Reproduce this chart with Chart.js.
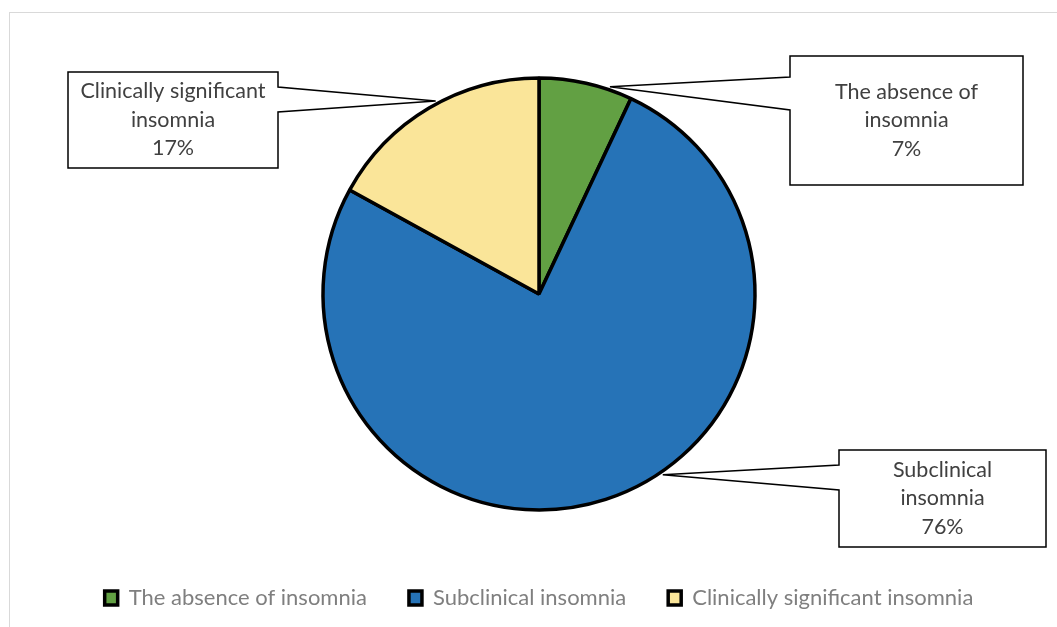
<!DOCTYPE html>
<html>
<head>
<meta charset="utf-8">
<title>Insomnia</title>
<script src="https://cdn.jsdelivr.net/npm/chart.js@4.4.0/dist/chart.umd.min.js"></script>
<style>
  html, body { margin: 0; padding: 0; background: #fff; }
  canvas { display: block; }
</style>
</head>
<body>
<canvas id="pieChart" width="1057" height="627"></canvas>
<script>
'use strict';

// data
const categories = ['The absence of insomnia', 'Subclinical insomnia', 'Clinically significant insomnia'];
const shares = [7, 76, 17];
const calloutText = [['The absence of', 'insomnia'], ['Subclinical', 'insomnia'], ['Clinically significant', 'insomnia']];

// warna
const greenColor = '#62a043',
  blueColor = '#2673b7',
  yellowColor = '#fae599',
  labelColor = '#404040',
  legendColor = '#7f7f7f',
  frameColor = '#d9d9d9';

const fontFamily = 'Lato, "Open Sans", sans-serif';

// kotak label (posisi kotak, sisi pointer, titik pada irisan)
const callouts = [
  { x: 790, y: 56, w: 233, h: 129, side: 'left', b0: 21, b1: 54, frac: 0.75 },
  { x: 839, y: 450, w: 207, h: 97, side: 'left', b0: 15, b1: 40, frac: 0.44 },
  { x: 68, y: 72, w: 210, h: 96, side: 'right', b0: 15, b1: 40, frac: 0.54 }
];

const calloutPlugin = {
  id: 'callouts',
  beforeDraw(chart) {
    const ctx = chart.ctx;
    ctx.save();
    ctx.strokeStyle = frameColor;
    ctx.lineWidth = 1;
    ctx.strokeRect(9.5, 12.5, 1200, 800);
    ctx.restore();
  },
  afterDatasetsDraw(chart) {
    const ctx = chart.ctx;
    const meta = chart.getDatasetMeta(0);
    const total = shares.reduce((a, b) => a + b, 0);
    meta.data.forEach((arc, i) => {
      const c = callouts[i];
      const p = arc.getProps(['x', 'y', 'startAngle', 'endAngle', 'outerRadius'], true);
      const ang = p.startAngle + c.frac * (p.endAngle - p.startAngle);
      const tx = p.x + Math.cos(ang) * (p.outerRadius + 3);
      const ty = p.y + Math.sin(ang) * (p.outerRadius + 3);

      ctx.save();
      ctx.beginPath();
      if (c.side === 'left') {
        ctx.moveTo(c.x, c.y);
        ctx.lineTo(c.x + c.w, c.y);
        ctx.lineTo(c.x + c.w, c.y + c.h);
        ctx.lineTo(c.x, c.y + c.h);
        ctx.lineTo(c.x, c.y + c.b1);
        ctx.lineTo(tx, ty);
        ctx.lineTo(c.x, c.y + c.b0);
      } else {
        ctx.moveTo(c.x, c.y);
        ctx.lineTo(c.x + c.w, c.y);
        ctx.lineTo(c.x + c.w, c.y + c.b0);
        ctx.lineTo(tx, ty);
        ctx.lineTo(c.x + c.w, c.y + c.b1);
        ctx.lineTo(c.x + c.w, c.y + c.h);
        ctx.lineTo(c.x, c.y + c.h);
      }
      ctx.closePath();
      ctx.fillStyle = '#fff';
      ctx.fill();
      ctx.lineWidth = 1.5;
      ctx.strokeStyle = '#000';
      ctx.stroke();

      // teks label
      const lines = calloutText[i].concat([Math.round(shares[i] / total * 100) + '%']);
      const lh = 28.5;
      ctx.fillStyle = labelColor;
      ctx.font = '21.5px ' + fontFamily;
      ctx.textAlign = 'center';
      ctx.textBaseline = 'middle';
      const cy = c.y + c.h / 2 - (lines.length - 1) * lh / 2;
      lines.forEach((t, k) => ctx.fillText(t, c.x + c.w / 2, cy + k * lh));
      ctx.restore();
    });
  }
};

const ctxPie = document.getElementById('pieChart');
new Chart(ctxPie, {
  type: 'pie',
  data: {
    labels: categories,
    datasets: [
      {
        data: shares,
        backgroundColor: [greenColor, blueColor, yellowColor],
        borderColor: '#000',
        borderWidth: 3.5
      }
    ]
  },
  options: {
    responsive: false,
    animation: false,
    events: [],
    radius: 216,
    layout: {
      padding: { left: 21, right: 0, top: 43, bottom: 8 }
    },
    plugins: {
      tooltip: { enabled: false },
      legend: {
        position: 'bottom',
        labels: {
          boxWidth: 13,
          boxHeight: 14,
          padding: 42,
          color: legendColor,
          font: { family: fontFamily, size: 22 }
        }
      }
    }
  },
  plugins: [calloutPlugin]
});
</script>
</body>
</html>
